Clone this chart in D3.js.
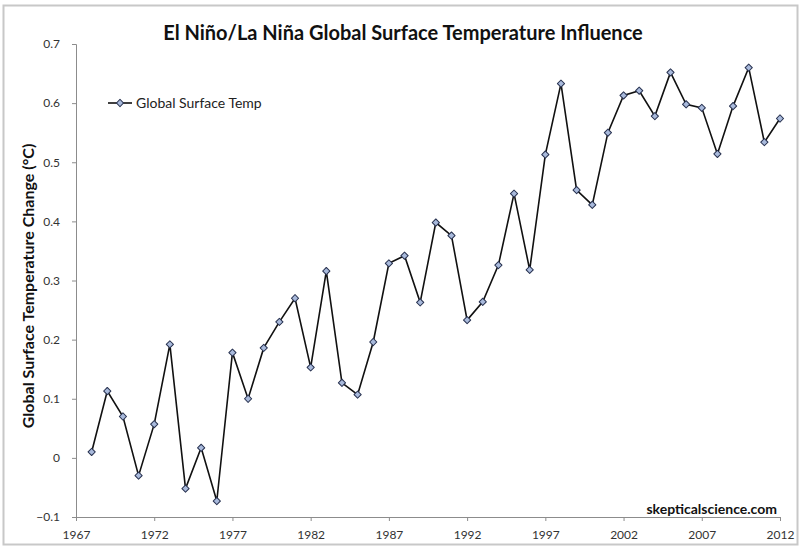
<!DOCTYPE html>
<html>
<head>
<meta charset="utf-8">
<script src="https://cdn.jsdelivr.net/npm/d3@7"></script>
<style>
  body { margin: 0; background: #fff; }
  text { font-family: Lato, "Open Sans", sans-serif; }
</style>
</head>
<body>
<div id="chart"></div>
<script>
// Data
const years = d3.range(1968, 2013);
const temps = [0.010, 0.113, 0.070, -0.030, 0.057, 0.192, -0.052, 0.017, -0.073, 0.178,
    0.100, 0.186, 0.230, 0.270, 0.153, 0.316, 0.127, 0.107, 0.196, 0.329,
    0.342, 0.263, 0.398, 0.376, 0.233, 0.264, 0.326, 0.447, 0.318, 0.513,
    0.633, 0.453, 0.428, 0.550, 0.613, 0.621, 0.578, 0.652, 0.598, 0.592,
    0.514, 0.595, 0.660, 0.534, 0.574];
const xTicks = [1967, 1972, 1977, 1982, 1987, 1992, 1997, 2002, 2007, 2012];
const yTicks = [-0.1, 0, 0.1, 0.2, 0.3, 0.4, 0.5, 0.6, 0.7];

const W = 801, H = 548;
const margin = { top: 44, right: 21, bottom: 31, left: 76 },
    width = W - margin.left - margin.right,
    height = H - margin.top - margin.bottom;

const svg = d3.select("#chart").append("svg")
    .attr("width", W)
    .attr("height", H);

// outer frame
svg.append("rect")
    .attr("x", 3.5).attr("y", 5.5)
    .attr("width", W - 7).attr("height", H - 9)
    .attr("fill", "none")
    .attr("stroke", "#c8c8c8")
    .attr("stroke-width", 2);

const g = svg.append("g")
    .attr("transform", `translate(${margin.left},${margin.top})`);

const x = d3.scaleLinear().domain([1967, 2012]).range([0, width]);
const y = d3.scaleLinear().domain([-0.1, 0.7]).range([height, 0]);

// axes
const yAxis = g.append("g")
    .call(d3.axisLeft(y).tickValues(yTicks).tickSize(4).tickPadding(12)
        .tickFormat(d => d === 0 ? "0" : d3.format(".1f")(d)));
const xAxis = g.append("g")
    .attr("transform", `translate(0,${height})`)
    .call(d3.axisBottom(x).tickValues(xTicks).tickSize(4).tickPadding(9).tickFormat(d3.format("d")));

[yAxis, xAxis].forEach(a => {
    a.select(".domain").attr("stroke", "#8c8c8c");
    a.selectAll(".tick line").attr("stroke", "#8c8c8c");
    a.selectAll(".tick text")
        .attr("fill", "#333")
        .style("font-size", "12px")
        .style("font-family", "Lato, sans-serif");
});

// line
const line = d3.line()
    .x((d, i) => x(years[i]))
    .y(d => y(d));

g.append("path")
    .datum(temps)
    .attr("fill", "none")
    .attr("stroke", "#111")
    .attr("stroke-width", 1.6)
    .attr("d", line);

// small rotated square markers
const marker = d3.symbol().type(d3.symbolSquare).size(26);

g.selectAll(".pt")
    .data(temps)
    .enter()
    .append("path")
    .attr("class", "pt")
    .attr("transform", (d, i) => `translate(${x(years[i])},${y(d)}) rotate(45)`)
    .attr("d", marker)
    .attr("fill", "#a9badc")
    .attr("stroke", "#27314f")
    .attr("stroke-width", 1)
    .attr("stroke-linejoin", "round");

// title
svg.append("text")
    .attr("x", 403)
    .attr("y", 40)
    .attr("text-anchor", "middle")
    .style("font-size", "20px")
    .style("font-weight", "bold")
    .attr("fill", "#111")
    .text("El Niño/La Niña Global Surface Temperature Influence");

// y label
svg.append("text")
    .attr("transform", "translate(34,286) rotate(-90)")
    .attr("text-anchor", "middle")
    .style("font-size", "16px")
    .style("font-weight", "bold")
    .attr("fill", "#111")
    .text("Global Surface Temperature Change (°C)");

// legend
const lg = svg.append("g").attr("transform", "translate(108,103)");
lg.append("line").attr("x1", 0).attr("x2", 24).attr("y1", 0).attr("y2", 0)
    .attr("stroke", "#111").attr("stroke-width", 1.6);
lg.append("path").attr("transform", "translate(12,0) rotate(45)").attr("d", marker)
    .attr("fill", "#a9badc").attr("stroke", "#27314f").attr("stroke-linejoin", "round");
lg.append("text").attr("x", 28).attr("y", 5)
    .style("font-size", "14px").attr("fill", "#222")
    .text("Global Surface Temp");

// watermark
svg.append("text")
    .attr("x", 777)
    .attr("y", 514)
    .attr("text-anchor", "end")
    .style("font-size", "14px")
    .style("font-weight", "bold")
    .attr("fill", "#111")
    .text("skepticalscience.com");
</script>
</body>
</html>
